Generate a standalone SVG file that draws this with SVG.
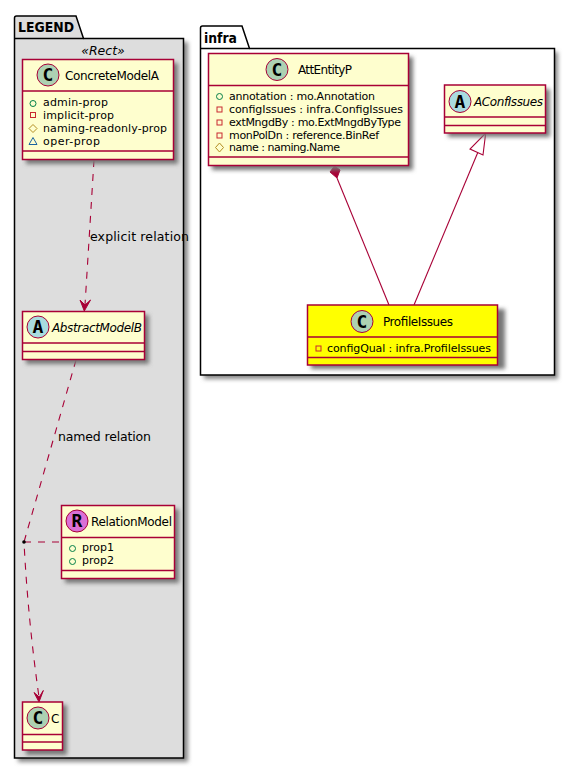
<svg xmlns="http://www.w3.org/2000/svg" width="575" height="769" viewBox="0 0 575 769">
<style>
text{font-family:"DejaVu Sans",Verdana,sans-serif;fill:#000}
.pkg{stroke:#000;stroke-width:1.5}
.box{fill:#FEFECE;stroke:#A80036;stroke-width:1.5}
.y{fill:#FFFF00}
.ln{stroke:#A80036;stroke-width:1.5;fill:none}
.cn{stroke:#A80036;stroke-width:1.1;fill:none}
.dash{stroke-dasharray:7 7}
.fl{fill:#A80036;stroke:#A80036;stroke-width:1}
.hol{fill:#fff;stroke:#A80036;stroke-width:1.1}
.t{font-size:12px}
.m{font-size:11px}
.lab{font-size:12.500px}
.pt{font-size:14px;font-weight:bold}
.ci{stroke:#A80036;stroke-width:1}
.g{font-size:18px;font-weight:bold;text-anchor:middle;font-family:"DejaVu Sans Mono","Liberation Mono",monospace}
.v{fill:none;stroke-width:1}
</style>
<defs>
<filter id="s" x="-15%" y="-15%" width="130%" height="130%"><feGaussianBlur stdDeviation="2"/></filter>
</defs>
<g id="pkg-legend">
<path d="M18 42H188V762H18Z" fill="#888" filter="url(#s)"/>
<path class="pkg" fill="#DDDDDD" d="M14.500 38.500V18Q14.500 16 16.500 16H76L83.500 38.500H183.500V758H14.500Z"/>
<path class="pkg" fill="none" d="M14.500 38.500H83.500"/>
<text class="pt" x="18" y="32" textLength="56" lengthAdjust="spacingAndGlyphs">LEGEND</text>
<text x="103" y="55" font-size="12.500" font-style="italic" text-anchor="middle">«Rect»</text>
</g>
<g id="pkg-infra">
<path d="M204 52H558V379H204Z" fill="#888" filter="url(#s)"/>
<path class="pkg" fill="#fff" d="M200.500 48.500V28Q200.500 26 202.500 26H242L249.500 48.500H554.500V375H200.500Z"/>
<path class="pkg" fill="none" d="M200.500 48.500H249.500"/>
<text class="pt" x="204" y="43" textLength="33" lengthAdjust="spacingAndGlyphs">infra</text>
</g>
<g id="connectors">
<path class="cn dash" d="M94 160 85 305"/>
<path class="fl" d="M80 300 84.300 311 90.500 300 85 305Z"/>
<text class="lab" x="90" y="241" textLength="99" lengthAdjust="spacing">explicit relation</text>
<path class="cn dash" d="M76 360 24 542Q28 620 39 697"/>
<path class="fl" d="M34 692.500 39 702 43.300 690.500 39.300 697Z"/>
<text class="lab" x="58" y="441" textLength="93" lengthAdjust="spacing">named relation</text>
<path class="cn dash" d="M24 542H61"/>
<circle cx="24" cy="542" r="1.800" fill="#000"/>
<path class="cn" d="M337 178 389 305"/>
<path class="fl" d="M330 172 334.500 166 340 170 337 178Z"/>
<path class="cn" d="M478 152 414 305"/>
<path class="hol" d="M485.700 133 483 155 470 149Z"/>
</g>
<g id="ConcreteModelA">
<rect x="26" y="63" width="152" height="101" fill="#777" filter="url(#s)"/>
<rect class="box" x="22.500" y="59.500" width="151" height="100"/>
<path class="ln" d="M22.500 91H173.500M22.500 151H173.500"/>
<circle class="ci" cx="48" cy="75" r="11" fill="#ADD1B2"/>
<text class="g" x="48" y="81">C</text>
<text class="t" x="65" y="80" textLength="94" lengthAdjust="spacing">ConcreteModelA</text>
<circle class="v" cx="33" cy="103.500" r="3" stroke="#038048"/>
<rect class="v" x="30.500" y="112.500" width="5" height="5" stroke="#C82930"/>
<path class="v" d="M33 124.500 37 128.500 33 132.500 29 128.500Z" stroke="#B38D22"/>
<path class="v" d="M33 137.500 37 144.500H29Z" stroke="#1963A0"/>
<text class="m" x="43" y="106" textLength="65" lengthAdjust="spacing">admin-prop</text>
<text class="m" x="43" y="119" textLength="71" lengthAdjust="spacing">implicit-prop</text>
<text class="m" x="43" y="132" textLength="124" lengthAdjust="spacing">naming-readonly-prop</text>
<text class="m" x="43" y="145" textLength="57" lengthAdjust="spacing">oper-prop</text>
</g>
<g id="AbstractModelB">
<rect x="26" y="315" width="123" height="49" fill="#777" filter="url(#s)"/>
<rect class="box" x="22.500" y="311.500" width="122" height="48"/>
<path class="ln" d="M22.500 343H144.500M22.500 351.500H144.500"/>
<circle class="ci" cx="38" cy="327" r="11" fill="#A9DCDF"/>
<text class="g" x="38" y="333">A</text>
<text class="t" x="52" y="332" font-style="italic" textLength="90" lengthAdjust="spacing">AbstractModelB</text>
</g>
<g id="RelationModel">
<rect x="65" y="509" width="114" height="74" fill="#777" filter="url(#s)"/>
<rect class="box" x="61.500" y="505.500" width="113" height="73"/>
<path class="ln" d="M61.500 537.500H174.500M61.500 570.500H174.500"/>
<circle class="ci" cx="77" cy="521" r="11" fill="#DA70D6"/>
<text class="g" x="77" y="527">R</text>
<text class="t" x="91" y="526" textLength="81" lengthAdjust="spacing">RelationModel</text>
<circle class="v" cx="72.500" cy="548.500" r="3" stroke="#038048"/>
<circle class="v" cx="72.500" cy="561.500" r="3" stroke="#038048"/>
<text class="m" x="82" y="551" textLength="32" lengthAdjust="spacing">prop1</text>
<text class="m" x="82" y="564" textLength="32" lengthAdjust="spacing">prop2</text>
</g>
<g id="C">
<rect x="26" y="705" width="41" height="50" fill="#777" filter="url(#s)"/>
<rect class="box" x="22.500" y="702" width="40" height="48"/>
<path class="ln" d="M22.500 734.500H62.500M22.500 742H62.500"/>
<circle class="ci" cx="38" cy="718" r="11" fill="#ADD1B2"/>
<text class="g" x="38" y="724">C</text>
<text class="t" x="51" y="723">C</text>
</g>
<g id="AttEntityP">
<rect x="212" y="57" width="201" height="113" fill="#777" filter="url(#s)"/>
<rect class="box" x="208.500" y="53.500" width="200" height="112"/>
<path class="ln" d="M208.500 85.500H408.500M208.500 157H408.500"/>
<circle class="ci" cx="277" cy="69.500" r="11" fill="#ADD1B2"/>
<text class="g" x="277" y="75.500">C</text>
<text class="t" x="298" y="74" textLength="54" lengthAdjust="spacing">AttEntityP</text>
<circle class="v" cx="219.500" cy="96.500" r="3" stroke="#038048"/>
<rect class="v" x="217" y="107" width="5" height="5" stroke="#C82930"/>
<rect class="v" x="217" y="120" width="5" height="5" stroke="#C82930"/>
<rect class="v" x="217" y="133" width="5" height="5" stroke="#C82930"/>
<path class="v" d="M219.500 143 223.500 147.500 219.500 152 215.500 147.500Z" stroke="#B38D22"/>
<text class="m" x="229" y="100" textLength="146" lengthAdjust="spacing">annotation : mo.Annotation</text>
<text class="m" x="229" y="113" textLength="174" lengthAdjust="spacing">configIssues : infra.ConfigIssues</text>
<text class="m" x="229" y="126" textLength="172" lengthAdjust="spacing">extMngdBy : mo.ExtMngdByType</text>
<text class="m" x="229" y="139" textLength="150" lengthAdjust="spacing">monPolDn : reference.BinRef</text>
<text class="m" x="229" y="151" textLength="111" lengthAdjust="spacing">name : naming.Name</text>
</g>
<g id="AConfIssues">
<rect x="448" y="89" width="102" height="48" fill="#777" filter="url(#s)"/>
<rect class="box" x="444.500" y="85" width="101" height="48"/>
<path class="ln" d="M444.500 117H545.500M444.500 125.500H545.500"/>
<circle class="ci" cx="460" cy="101.500" r="11" fill="#A9DCDF"/>
<text class="g" x="460" y="107.500">A</text>
<text class="t" x="474" y="106" font-style="italic" textLength="69" lengthAdjust="spacing">AConfIssues</text>
</g>
<g id="ProfileIssues">
<rect x="311" y="309" width="194" height="60" fill="#777" filter="url(#s)"/>
<rect class="box y" x="307.500" y="305" width="190" height="60"/>
<path class="ln" d="M307.500 337H497.500M307.500 357.500H497.500"/>
<circle class="ci" cx="362" cy="321.500" r="11" fill="#ADD1B2"/>
<text class="g" x="362" y="327.500">C</text>
<text class="t" x="383" y="326" textLength="70" lengthAdjust="spacing">ProfileIssues</text>
<rect class="v" x="316" y="346" width="5" height="5" stroke="#C82930"/>
<text class="m" x="327" y="352" textLength="164" lengthAdjust="spacing">configQual : infra.ProfileIssues</text>
</g>
</svg>
